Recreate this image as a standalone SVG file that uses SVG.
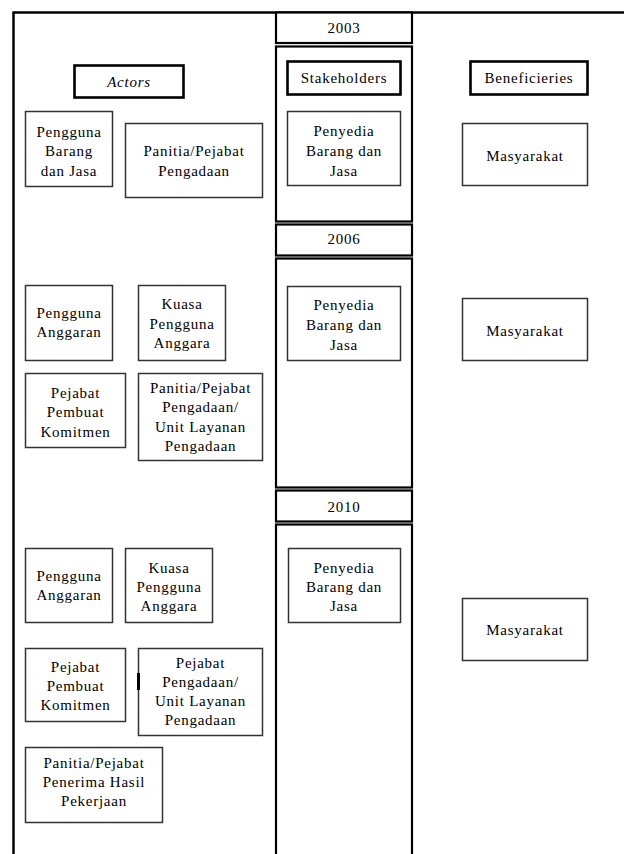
<svg xmlns="http://www.w3.org/2000/svg" width="624" height="854" viewBox="0 0 624 854">
  <style>
    .frame { fill: none; stroke: #000; stroke-width: 2.5; }
    .col { fill: #fff; stroke: #000; stroke-width: 2.2; }
    .box { fill: #fff; stroke: #333; stroke-width: 1.5; }
    .head { fill: #fff; stroke: #000; stroke-width: 2.6; }
    text { font-family: "Liberation Serif", "Times New Roman", serif; font-size: 15px; fill: #000; text-anchor: middle; letter-spacing: 0.75px; }
    .it { font-style: italic; }
  </style>
  <rect x="0" y="0" width="624" height="854" fill="#fff"/>

  <!-- outer frame: left edge and top edge -->
  <g id="frame">
    <line class="frame" x1="13.5" y1="12" x2="13.5" y2="854"/>
    <line class="frame" x1="12.5" y1="12.5" x2="624" y2="12.5"/>
  </g>

  <!-- middle column: year headers and sections -->
  <g id="year-2003">
    <rect class="col" x="276" y="12.5" width="136" height="30.5"/>
    <text x="344" y="33">2003</text>
  </g>
  <rect class="col" x="276" y="46.5" width="136" height="175"/>
  <g id="year-2006">
    <rect class="col" x="276" y="224.5" width="136" height="31"/>
    <text x="344" y="243.5">2006</text>
  </g>
  <rect class="col" x="276" y="258.5" width="136" height="229"/>
  <g id="year-2010">
    <rect class="col" x="276" y="490.5" width="136" height="31"/>
    <text x="344" y="511.5">2010</text>
  </g>
  <rect class="col" x="276" y="524.5" width="136" height="340"/>

  <!-- column headings -->
  <g id="actors">
    <rect class="head" x="74.5" y="65.5" width="109" height="32"/>
    <text class="it" x="129" y="86.5">Actors</text>
  </g>
  <g id="stakeholders">
    <rect class="head" x="287.5" y="61.5" width="113" height="33"/>
    <text x="344" y="83">Stakeholders</text>
  </g>
  <g id="beneficieries">
    <rect class="head" x="470.5" y="61.5" width="117" height="33"/>
    <text x="529" y="83">Beneficieries</text>
  </g>

  <!-- 2003 -->
  <g id="n2003-pengguna-barang">
    <rect class="box" x="25.5" y="111.5" width="87" height="75"/>
    <text x="69" y="136.5">Pengguna</text>
    <text x="69" y="156">Barang</text>
    <text x="69" y="175.5">dan Jasa</text>
  </g>
  <g id="n2003-panitia">
    <rect class="box" x="125.5" y="123.5" width="137" height="74"/>
    <text x="194" y="156">Panitia/Pejabat</text>
    <text x="194" y="176">Pengadaan</text>
  </g>
  <g id="n2003-penyedia">
    <rect class="box" x="287.5" y="111.5" width="113" height="74"/>
    <text x="344" y="135.5">Penyedia</text>
    <text x="344" y="155.5">Barang dan</text>
    <text x="344" y="176">Jasa</text>
  </g>
  <g id="n2003-masyarakat">
    <rect class="box" x="462.5" y="123.5" width="125" height="62"/>
    <text x="525" y="160.5">Masyarakat</text>
  </g>

  <!-- 2006 -->
  <g id="n2006-pengguna-anggaran">
    <rect class="box" x="25.5" y="285.5" width="87" height="75"/>
    <text x="69" y="318">Pengguna</text>
    <text x="69" y="337">Anggaran</text>
  </g>
  <g id="n2006-kuasa">
    <rect class="box" x="138.5" y="285.5" width="87" height="75"/>
    <text x="182" y="309">Kuasa</text>
    <text x="182" y="328.5">Pengguna</text>
    <text x="182" y="348">Anggara</text>
  </g>
  <g id="n2006-ppk">
    <rect class="box" x="25.5" y="373.5" width="100" height="74"/>
    <text x="75.5" y="398">Pejabat</text>
    <text x="75.5" y="417">Pembuat</text>
    <text x="75.5" y="437">Komitmen</text>
  </g>
  <g id="n2006-panitia-ulp">
    <rect class="box" x="138.5" y="373.5" width="124" height="87"/>
    <text x="200.5" y="393">Panitia/Pejabat</text>
    <text x="200.5" y="412">Pengadaan/</text>
    <text x="200.5" y="432">Unit Layanan</text>
    <text x="200.5" y="451">Pengadaan</text>
  </g>
  <g id="n2006-penyedia">
    <rect class="box" x="287.5" y="286.5" width="113" height="74"/>
    <text x="344" y="309.5">Penyedia</text>
    <text x="344" y="329.5">Barang dan</text>
    <text x="344" y="349.5">Jasa</text>
  </g>
  <g id="n2006-masyarakat">
    <rect class="box" x="462.5" y="298.5" width="125" height="62"/>
    <text x="525" y="335.5">Masyarakat</text>
  </g>

  <!-- 2010 -->
  <g id="n2010-pengguna-anggaran">
    <rect class="box" x="25.5" y="548.5" width="87" height="74"/>
    <text x="69" y="581">Pengguna</text>
    <text x="69" y="600">Anggaran</text>
  </g>
  <g id="n2010-kuasa">
    <rect class="box" x="125.5" y="548.5" width="87" height="74"/>
    <text x="169" y="573">Kuasa</text>
    <text x="169" y="591.5">Pengguna</text>
    <text x="169" y="610.5">Anggara</text>
  </g>
  <g id="n2010-penyedia">
    <rect class="box" x="288.5" y="548.5" width="112" height="74"/>
    <text x="344" y="573">Penyedia</text>
    <text x="344" y="592">Barang dan</text>
    <text x="344" y="611">Jasa</text>
  </g>
  <g id="n2010-masyarakat">
    <rect class="box" x="462.5" y="598.5" width="125" height="62"/>
    <text x="525" y="635">Masyarakat</text>
  </g>
  <g id="n2010-ppk">
    <rect class="box" x="25.5" y="648.5" width="100" height="73"/>
    <text x="75.5" y="672">Pejabat</text>
    <text x="75.5" y="690.5">Pembuat</text>
    <text x="75.5" y="710">Komitmen</text>
  </g>
  <g id="n2010-pejabat-ulp">
    <rect class="box" x="138.5" y="648.5" width="124" height="87"/>
    <line x1="138.5" y1="673" x2="138.5" y2="690" stroke="#000" stroke-width="3"/>
    <text x="200.5" y="668">Pejabat</text>
    <text x="200.5" y="687">Pengadaan/</text>
    <text x="200.5" y="706">Unit Layanan</text>
    <text x="200.5" y="725">Pengadaan</text>
  </g>
  <g id="n2010-penerima-hasil">
    <rect class="box" x="25.5" y="747.5" width="137" height="75"/>
    <text x="94" y="768">Panitia/Pejabat</text>
    <text x="94" y="787">Penerima Hasil</text>
    <text x="94" y="806">Pekerjaan</text>
  </g>

  <!-- no connectors in this chart -->
  <g id="connectors"/>
</svg>
